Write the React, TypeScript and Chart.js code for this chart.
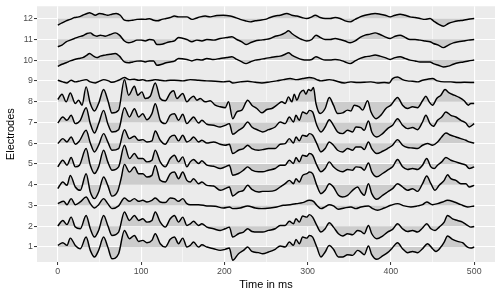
import React, { useEffect, useRef } from "react";
import { Chart, registerables } from "chart.js";

Chart.register(...registerables);

const electrodes = [1, 2, 3, 4, 5, 6, 7, 8, 9, 10, 11, 12];
const xTicks = [0, 50, 100, 150, 200, 250, 300, 350, 400, 450, 500];
const yTicks = [1, 2, 3, 4, 5, 6, 7, 8, 9, 10, 11, 12];

// each trace: [time in ms, deviation from the electrode's baseline]
const e1 = [[0,0.08],[6,0.21],[11,0.08],[15,0.43],[21,0.08],[27,-0.08],[34,0.48],[39,-0.16],[44,-0.48],[49,-0.16],[55,0.48],[60,0.0],[65,-0.56],[73,-0.32],[80,0.80],[86,0.40],[92,0.56],[97,0.27],[102,0.32],[107,0.21],[113,0.32],[117,0.64],[123,0.16],[129,0.0],[135,0.37],[140,0.48],[145,0.16],[150,0.43],[155,0.0],[159,0.08],[163,0.24],[169,0.0],[173,0.11],[179,0.0],[187,-0.08],[195,-0.16],[201,-0.11],[206,-0.05],[210,-0.64],[217,-0.32],[223,-0.16],[228,0.0],[233,-0.21],[241,-0.27],[246,-0.32],[253,-0.24],[261,-0.11],[267,0.05],[273,0.0],[278,0.24],[283,0.08],[286,0.37],[290,0.16],[294,0.48],[299,0.43],[302,0.56],[306,0.48],[311,0.0],[316,-0.48],[321,-0.24],[326,0.08],[331,-0.11],[337,-0.48],[342,-0.48],[348,-0.37],[354,-0.40],[360,-0.16],[364,-0.24],[368,-0.37],[373,0.05],[377,-0.37],[383,-0.59],[390,-0.43],[396,-0.27],[401,-0.08],[408,0.21],[414,-0.08],[420,-0.27],[426,-0.21],[432,-0.27],[438,-0.08],[444,0.16],[450,-0.08],[454,-0.21],[460,0.0],[464,0.24],[468,0.53],[474,0.37],[480,0.27],[486,0.21],[492,0.0],[496,-0.05],[500,0.0]];
const e2 = [[0,0.01],[6,0.28],[11,0.08],[16,0.44],[21,-0.04],[27,-0.12],[34,0.52],[39,-0.12],[44,-0.52],[49,-0.20],[55,0.52],[60,0.04],[65,-0.44],[73,-0.28],[80,0.69],[86,0.28],[92,0.52],[97,0.28],[102,0.36],[107,0.20],[113,0.28],[117,0.69],[123,0.20],[129,-0.04],[135,0.36],[140,0.52],[145,0.20],[150,0.44],[155,0.04],[159,0.12],[163,0.24],[169,0.04],[173,0.12],[179,-0.04],[187,-0.12],[195,-0.20],[201,-0.12],[206,-0.04],[210,-0.52],[217,-0.36],[223,-0.28],[228,-0.12],[233,-0.25],[241,-0.28],[246,-0.28],[253,-0.20],[261,-0.12],[267,0.04],[273,0.04],[278,0.24],[283,0.12],[286,0.36],[290,0.20],[294,0.49],[299,0.44],[302,0.56],[306,0.44],[311,0.04],[316,-0.28],[321,-0.12],[326,0.17],[331,-0.04],[337,-0.36],[342,-0.47],[348,-0.36],[354,-0.41],[360,-0.20],[364,-0.25],[368,-0.36],[373,0.04],[377,-0.36],[383,-0.60],[390,-0.47],[396,-0.28],[402,-0.15],[408,0.12],[414,-0.12],[420,-0.25],[426,-0.20],[432,-0.28],[438,-0.08],[443,0.12],[448,-0.12],[453,-0.20],[458,-0.04],[464,0.20],[468,0.52],[474,0.36],[480,0.28],[486,0.20],[492,0.04],[496,-0.04],[500,-0.01]];
const e3 = [[0,0.09],[7,0.20],[11,0.04],[16,0.33],[21,0.04],[27,0.17],[34,0.41],[39,0.09],[44,-0.12],[49,0.04],[55,0.33],[60,0.09],[65,-0.15],[73,-0.02],[80,0.36],[86,0.20],[92,0.33],[97,0.20],[102,0.25],[107,0.17],[113,0.25],[117,0.36],[123,0.17],[129,0.14],[135,0.36],[140,0.33],[145,0.20],[150,0.33],[155,0.09],[159,0.04],[169,0.04],[179,-0.02],[189,-0.04],[199,-0.12],[206,-0.07],[210,-0.15],[219,-0.12],[228,-0.02],[237,-0.12],[245,-0.15],[255,-0.12],[263,-0.07],[271,0.01],[279,0.04],[287,0.09],[294,0.14],[302,0.25],[307,0.20],[311,0.01],[316,-0.15],[321,-0.07],[326,0.04],[331,-0.02],[337,-0.18],[344,-0.12],[352,-0.07],[358,-0.15],[364,-0.07],[373,-0.02],[378,-0.15],[384,-0.23],[392,-0.12],[400,0.01],[408,0.09],[416,-0.02],[424,-0.07],[432,-0.02],[438,0.04],[443,0.17],[450,0.04],[456,0.09],[462,0.17],[468,0.25],[476,0.17],[484,0.04],[492,-0.07],[500,-0.02]];
const e4 = [[0,-0.19],[6,0.13],[11,-0.03],[15,0.45],[21,-0.11],[27,-0.27],[34,0.53],[39,-0.35],[44,-0.67],[49,-0.35],[55,0.37],[60,-0.03],[65,-0.55],[72,-0.30],[76,0.30],[80,0.98],[86,0.61],[92,0.85],[97,0.53],[102,0.53],[107,0.37],[113,0.45],[117,0.93],[123,0.21],[129,0.13],[135,0.53],[140,0.61],[145,0.29],[150,0.61],[155,0.21],[159,0.13],[163,0.29],[169,0.05],[173,0.13],[179,-0.03],[187,-0.06],[195,-0.27],[201,-0.19],[206,-0.11],[210,-0.54],[217,-0.35],[223,-0.27],[228,-0.03],[233,-0.22],[241,-0.35],[246,-0.32],[253,-0.32],[261,-0.27],[267,-0.11],[273,0.05],[278,0.21],[283,0.05],[286,0.29],[290,0.13],[294,0.45],[299,0.53],[302,0.61],[306,0.53],[311,-0.03],[316,-0.43],[321,-0.27],[326,0.05],[331,-0.11],[337,-0.51],[342,-0.59],[348,-0.51],[354,-0.27],[360,-0.11],[364,-0.35],[368,-0.51],[373,0.05],[377,-0.43],[383,-0.70],[390,-0.51],[396,-0.35],[402,-0.19],[408,0.05],[414,-0.11],[420,-0.27],[426,-0.19],[432,-0.32],[438,0.05],[443,0.42],[448,0.05],[453,-0.27],[458,-0.03],[464,0.21],[468,0.48],[472,0.29],[478,0.21],[484,0.05],[490,0.05],[494,-0.11],[500,-0.03]];
const e5 = [[0,-0.14],[6,0.18],[11,-0.06],[16,0.31],[21,-0.14],[26,-0.06],[34,0.74],[39,-0.06],[44,-0.46],[49,-0.14],[55,0.66],[60,0.10],[65,-0.30],[73,-0.14],[80,0.90],[86,0.26],[92,0.50],[97,0.26],[102,0.26],[107,0.10],[113,0.18],[117,0.66],[123,0.10],[129,-0.14],[135,0.26],[140,0.42],[145,0.10],[150,0.34],[155,-0.14],[159,0.10],[163,0.21],[169,0.02],[173,0.15],[179,-0.06],[187,-0.11],[195,-0.22],[201,-0.14],[206,-0.06],[210,-0.54],[217,-0.46],[223,-0.30],[228,-0.14],[233,-0.30],[241,-0.38],[246,-0.38],[253,-0.30],[261,-0.22],[267,-0.06],[273,-0.06],[278,0.18],[283,0.02],[286,0.31],[290,0.10],[294,0.42],[299,0.37],[302,0.50],[306,0.42],[311,-0.06],[316,-0.38],[321,-0.22],[326,0.10],[331,-0.14],[336,-0.30],[342,-0.38],[348,-0.27],[354,-0.30],[358,-0.14],[364,-0.17],[368,-0.30],[373,0.05],[377,-0.38],[383,-0.62],[390,-0.46],[396,-0.30],[402,-0.14],[408,0.21],[414,-0.14],[420,-0.27],[426,-0.22],[432,-0.27],[438,-0.06],[443,0.26],[448,-0.14],[452,-0.22],[456,-0.06],[461,0.10],[466,0.31],[472,0.18],[478,0.10],[484,0.02],[490,-0.06],[494,-0.22],[500,-0.14]];
const e6 = [[0,-0.02],[6,0.22],[11,0.06],[16,0.30],[21,-0.05],[26,0.11],[34,0.62],[39,0.01],[44,-0.42],[49,-0.10],[55,0.46],[60,0.06],[65,-0.34],[73,-0.26],[80,0.65],[86,0.22],[92,0.33],[97,0.14],[102,0.17],[107,0.06],[113,0.11],[117,0.59],[123,0.14],[129,-0.05],[135,0.30],[140,0.38],[145,0.11],[150,0.38],[155,0.06],[159,0.14],[163,0.30],[169,0.06],[173,0.14],[179,0.01],[187,0.06],[195,-0.05],[201,-0.10],[206,-0.05],[210,-0.50],[217,-0.34],[223,-0.26],[228,-0.10],[233,-0.26],[241,-0.34],[246,-0.31],[253,-0.26],[261,-0.26],[267,-0.05],[273,-0.02],[278,0.22],[283,0.01],[286,0.30],[290,0.11],[294,0.38],[299,0.33],[302,0.46],[306,0.38],[311,-0.02],[316,-0.42],[321,-0.26],[326,0.06],[331,-0.10],[336,-0.34],[342,-0.42],[348,-0.26],[354,-0.34],[358,-0.18],[364,-0.18],[368,-0.31],[373,0.06],[377,-0.26],[383,-0.50],[390,-0.39],[396,-0.26],[402,-0.10],[408,0.17],[414,-0.10],[420,-0.21],[426,-0.23],[432,-0.26],[438,-0.10],[444,-0.02],[450,-0.10],[456,0.06],[461,0.30],[466,0.49],[472,0.38],[478,0.30],[484,0.22],[490,0.14],[494,0.06],[500,0.01]];
const e7 = [[0,-0.03],[6,0.26],[11,0.10],[16,0.34],[21,-0.06],[27,0.10],[34,0.71],[39,-0.06],[44,-0.51],[49,-0.06],[55,0.58],[60,-0.06],[65,-0.46],[73,-0.35],[80,0.71],[86,0.26],[92,0.66],[97,0.26],[102,0.42],[107,0.13],[113,0.42],[117,0.90],[123,0.10],[129,-0.06],[135,0.34],[140,0.42],[145,0.10],[150,0.39],[155,-0.06],[159,0.10],[163,0.26],[169,-0.03],[173,0.10],[179,-0.09],[187,-0.14],[195,-0.22],[201,-0.14],[206,-0.06],[210,-0.57],[217,-0.38],[223,-0.22],[228,0.02],[233,-0.22],[241,-0.38],[246,-0.46],[253,-0.35],[261,-0.22],[267,0.02],[273,-0.06],[278,0.26],[283,0.02],[286,0.34],[290,0.10],[294,0.50],[299,0.42],[302,0.58],[306,0.50],[311,-0.14],[316,-0.46],[321,-0.22],[326,0.13],[331,-0.14],[336,-0.46],[342,-0.54],[348,-0.38],[354,-0.46],[358,-0.22],[364,-0.25],[368,-0.38],[373,0.07],[377,-0.46],[383,-0.70],[390,-0.54],[396,-0.30],[402,-0.14],[408,0.18],[414,-0.14],[420,-0.30],[426,-0.25],[432,-0.35],[438,0.02],[442,0.34],[447,-0.06],[451,-0.19],[456,0.10],[461,0.26],[466,0.50],[472,0.34],[478,0.26],[484,0.10],[490,-0.03],[494,-0.22],[500,-0.06]];
const e8 = [[0,0.10],[5,0.36],[10,-0.01],[15,0.42],[21,-0.09],[25,0.07],[29,-0.17],[34,0.71],[39,-0.09],[44,-0.45],[49,-0.09],[55,0.58],[60,0.07],[65,-0.55],[73,-0.41],[80,1.06],[85,0.31],[92,0.74],[96,0.31],[101,0.47],[105,0.15],[111,0.26],[117,0.90],[123,0.15],[129,0.04],[135,0.42],[139,0.52],[143,0.15],[150,0.39],[155,-0.01],[159,0.15],[163,0.26],[167,0.07],[171,0.15],[177,-0.01],[183,0.04],[189,-0.17],[195,-0.25],[201,-0.29],[205,-0.01],[210,-0.82],[215,-0.49],[221,-0.41],[228,0.07],[233,-0.17],[239,-0.33],[245,-0.54],[251,-0.38],[257,-0.33],[263,-0.17],[269,-0.01],[273,-0.09],[277,0.23],[281,-0.01],[284,0.36],[287,0.07],[291,0.42],[295,0.55],[298,0.36],[301,0.58],[304,0.52],[307,0.68],[310,-0.09],[315,-0.57],[321,-0.33],[326,0.20],[331,-0.17],[336,-0.57],[342,-0.54],[348,-0.41],[352,-0.45],[356,-0.17],[362,-0.25],[366,-0.41],[372,0.04],[376,-0.49],[382,-0.82],[388,-0.65],[394,-0.33],[400,-0.17],[408,0.20],[414,-0.17],[420,-0.33],[426,-0.25],[432,-0.29],[438,0.04],[442,0.26],[446,-0.01],[450,-0.17],[455,0.15],[460,0.31],[465,0.58],[470,0.42],[476,0.31],[482,0.20],[488,0.04],[493,-0.17],[496,-0.09],[500,-0.09]];
const e9 = [[0,0.03],[6,-0.05],[11,-0.10],[16,0.03],[21,-0.05],[27,0.0],[34,0.06],[39,-0.05],[45,-0.10],[51,0.0],[55,0.06],[61,0.0],[65,-0.07],[73,0.03],[80,0.16],[86,0.06],[92,0.08],[97,0.03],[102,0.06],[107,0.0],[113,0.03],[117,0.06],[123,0.03],[129,0.0],[135,0.03],[140,0.03],[150,0.0],[159,0.06],[169,0.03],[179,0.0],[189,-0.02],[199,-0.05],[206,-0.02],[210,-0.10],[219,-0.05],[228,-0.02],[237,-0.07],[245,-0.10],[255,-0.05],[263,0.0],[271,0.06],[279,0.11],[287,0.06],[294,0.11],[302,0.16],[307,0.13],[311,0.06],[316,0.0],[321,0.03],[326,0.06],[331,0.03],[344,-0.10],[352,-0.05],[360,-0.08],[368,-0.07],[376,-0.05],[384,-0.10],[392,-0.08],[398,-0.10],[402,0.11],[408,0.19],[414,0.06],[420,0.0],[426,-0.02],[432,-0.05],[438,0.03],[444,0.08],[450,0.11],[456,0.0],[464,-0.05],[472,-0.05],[480,-0.08],[488,-0.07],[500,-0.08]];
const e10 = [[0,-0.30],[5,-0.20],[10,-0.13],[15,-0.04],[20,0.03],[25,0.08],[30,0.12],[35,0.24],[38,0.32],[43,0.19],[47,0.12],[51,0.19],[57,0.24],[63,0.28],[69,0.32],[74,0.19],[80,-0.09],[85,-0.13],[90,-0.09],[95,-0.05],[100,-0.04],[105,-0.09],[110,-0.04],[115,-0.04],[119,-0.25],[125,-0.20],[130,-0.13],[135,-0.09],[140,-0.05],[145,0.08],[155,0.03],[161,-0.04],[167,0.03],[173,0.0],[179,0.08],[187,0.03],[195,0.08],[203,0.12],[209,0.16],[215,0.03],[221,-0.09],[226,-0.17],[231,-0.09],[237,0.0],[243,0.03],[249,0.08],[255,0.12],[261,0.16],[267,0.19],[273,0.28],[277,0.35],[281,0.24],[287,0.12],[293,0.03],[299,0.0],[305,0.03],[310,0.16],[315,0.08],[321,0.0],[327,0.0],[333,0.03],[339,0.0],[345,-0.09],[351,-0.17],[357,-0.04],[363,0.08],[369,0.16],[375,0.19],[381,0.24],[387,0.19],[393,0.12],[399,0.03],[405,0.12],[411,0.16],[417,0.08],[423,0.0],[429,-0.04],[435,-0.09],[441,-0.09],[447,-0.09],[451,-0.17],[457,-0.25],[463,-0.33],[469,-0.29],[475,-0.20],[481,-0.13],[487,-0.09],[493,-0.04],[500,0.0]];
const e11 = [[0,-0.36],[5,-0.28],[10,-0.12],[15,-0.04],[20,0.04],[25,0.12],[30,0.17],[35,0.28],[39,0.31],[43,0.20],[47,0.15],[51,0.20],[57,0.15],[63,0.23],[69,0.31],[74,0.20],[80,-0.08],[85,-0.17],[90,-0.12],[95,-0.04],[100,-0.04],[105,-0.08],[110,-0.01],[115,-0.04],[119,-0.25],[125,-0.24],[130,-0.17],[135,-0.12],[140,-0.08],[145,0.09],[155,-0.01],[161,-0.12],[167,-0.04],[173,-0.08],[179,-0.01],[187,-0.04],[195,0.04],[203,0.09],[209,0.12],[215,-0.01],[221,-0.12],[226,-0.25],[231,-0.17],[237,-0.08],[243,-0.04],[249,-0.01],[255,0.04],[261,0.15],[267,0.20],[273,0.31],[277,0.41],[281,0.28],[287,0.12],[293,-0.01],[299,-0.08],[305,-0.01],[310,0.20],[315,0.09],[321,-0.01],[327,-0.01],[333,0.04],[339,-0.01],[345,-0.08],[351,-0.17],[357,-0.08],[363,0.09],[369,0.20],[375,0.25],[381,0.31],[387,0.23],[393,0.12],[399,0.04],[405,0.15],[411,0.20],[417,0.09],[423,-0.01],[429,-0.01],[435,-0.04],[441,-0.08],[447,-0.12],[451,-0.20],[457,-0.28],[463,-0.40],[469,-0.28],[475,-0.17],[481,-0.12],[487,-0.08],[493,-0.04],[500,-0.01]];
const e12 = [[0,-0.32],[5,-0.21],[10,-0.11],[15,-0.04],[20,0.05],[25,0.08],[30,0.16],[35,0.24],[38,0.28],[41,0.24],[45,0.16],[50,0.24],[55,0.21],[60,0.16],[65,0.21],[70,0.24],[75,0.16],[80,-0.08],[85,-0.11],[90,-0.08],[95,-0.04],[100,-0.03],[105,-0.04],[110,-0.01],[115,-0.08],[120,-0.11],[125,-0.04],[130,0.0],[135,0.05],[140,0.12],[145,0.08],[155,0.08],[161,-0.04],[165,0.0],[171,0.08],[177,0.12],[183,0.08],[191,0.15],[199,0.16],[207,0.12],[213,0.05],[219,-0.04],[225,-0.11],[231,-0.16],[237,-0.11],[243,-0.08],[249,-0.04],[255,0.05],[261,0.12],[267,0.16],[275,0.24],[281,0.16],[287,0.12],[293,0.05],[299,0.0],[305,0.08],[309,0.16],[315,0.05],[321,0.0],[327,0.0],[333,0.05],[339,0.0],[345,-0.11],[351,-0.16],[357,-0.04],[363,0.08],[369,0.16],[375,0.21],[381,0.24],[387,0.21],[393,0.16],[399,0.08],[405,0.16],[411,0.21],[417,0.16],[423,0.08],[429,0.05],[435,0.0],[441,-0.04],[447,0.0],[451,-0.11],[457,-0.27],[463,-0.37],[469,-0.24],[475,-0.16],[481,-0.11],[487,-0.08],[493,-0.03],[500,0.0]];

const traces = [e1, e2, e3, e4, e5, e6, e7, e8, e9, e10, e11, e12];

const FONT = "'Liberation Sans', Arial, Helvetica, sans-serif";

const panelBackground = {
  id: "panelBackground",
  beforeDraw(chart: any) {
    const { ctx, chartArea } = chart;
    ctx.save();
    ctx.fillStyle = "#EBEBEB";
    ctx.fillRect(chartArea.left, chartArea.top, chartArea.right - chartArea.left, chartArea.bottom - chartArea.top);
    ctx.restore();
  },
};

export default function App() {
  const canvasRef = useRef<HTMLCanvasElement | null>(null);

  useEffect(() => {
    document.body.style.margin = "0";
    const canvas = canvasRef.current;
    if (!canvas) return;

    const datasets = traces.map((tr, i) => ({
      label: "Electrode " + electrodes[i],
      data: tr.map(([t, v]) => ({ x: t, y: electrodes[i] + v })),
      borderColor: "#000000",
      borderWidth: 1.45,
      pointRadius: 0,
      cubicInterpolationMode: "monotone",
      fill: { value: electrodes[i] },
      backgroundColor: "#CCCCCC",
    }));

    const chart = new Chart(canvas, {
      type: "line",
      data: { datasets },
      plugins: [panelBackground],
      options: {
        animation: false,
        responsive: false,
        events: [],
        layout: { padding: { top: 6, right: 6, left: 0, bottom: 0 } },
        plugins: {
          legend: { display: false },
          tooltip: { enabled: false },
          filler: { drawTime: "beforeDatasetsDraw" },
        },
        scales: {
          x: {
            type: "linear",
            min: -25,
            max: 525,
            afterBuildTicks: (s: any) => {
              s.ticks = xTicks.map((v) => ({ value: v }));
            },
            afterFit: (s: any) => {
              s.height = 34;
            },
            border: { display: false },
            grid: {
              color: "#FFFFFF",
              lineWidth: (c: any) => (c.tick && c.tick.value % 100 === 0 ? 1.1 : 0.55),
              tickColor: (c: any) => (c.tick && c.tick.value % 100 === 0 ? "#333333" : "rgba(0,0,0,0)"),
              tickLength: 3,
              tickWidth: 1,
            },
            ticks: {
              autoSkip: false,
              maxRotation: 0,
              padding: 1,
              color: "#4D4D4D",
              font: { size: 8.8, family: FONT },
              callback: (v: any) => (Number(v) % 100 === 0 ? String(v) : ""),
            },
            title: {
              display: true,
              text: "Time in ms",
              color: "#000000",
              font: { size: 11, family: FONT },
              padding: { top: 0, bottom: 4 },
            },
          },
          y: {
            type: "linear",
            min: 0.28,
            max: 12.59,
            afterBuildTicks: (s: any) => {
              s.ticks = yTicks.map((v) => ({ value: v }));
            },
            afterFit: (s: any) => {
              s.width = 37;
            },
            border: { display: false },
            grid: {
              color: "#FFFFFF",
              lineWidth: 1.1,
              tickColor: "#333333",
              tickLength: 3,
              tickWidth: 1,
            },
            ticks: {
              autoSkip: false,
              padding: 1,
              color: "#4D4D4D",
              font: { size: 8.8, family: FONT },
              callback: (v: any) => String(v),
            },
            title: {
              display: true,
              text: "Electrodes",
              color: "#000000",
              font: { size: 11, family: FONT },
              padding: { top: 4, bottom: 0 },
            },
          },
        },
      },
    } as any);

    return () => chart.destroy();
  }, []);

  return (
    <div style={{ width: 501, height: 296 }}>
      <canvas ref={canvasRef} width={501} height={296} style={{ display: "block" }} />
    </div>
  );
}
